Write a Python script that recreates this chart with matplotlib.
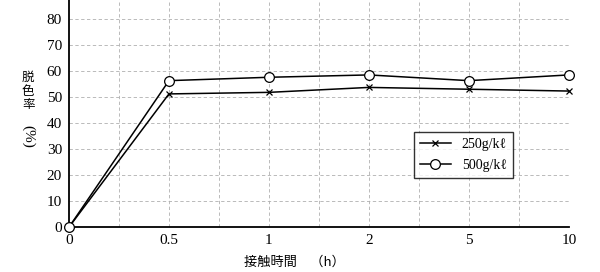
import matplotlib
matplotlib.use("Agg")
import matplotlib.pyplot as plt

# contact time categories (equally spaced on the chart)
times = ['0', '0.5', '1', '2', '5', '10']
rate_250 = [0, 51.2, 51.8, 53.7, 53.0, 52.3]
rate_500 = [0, 56.3, 57.6, 58.5, 56.3, 58.5]
yticks = [0, 10, 20, 30, 40, 50, 60, 70, 80]

serif = ['Liberation Serif', 'DejaVu Serif']
jp = ['Noto Sans CJK JP', 'DejaVu Sans']

fig = plt.figure(figsize=(6.0, 2.72), dpi=100)
ax = fig.add_axes([0.115, 0.165, 0.833, 0.835])

x = list(range(len(times)))
ax.plot(x, rate_250, color='black', lw=1.1, marker='x', ms=4, mew=0.9,
        label='250g/kℓ', zorder=3, clip_on=False)
ax.plot(x, rate_500, color='black', lw=1.1, marker='o', ms=7, mfc='white',
        mew=0.9, label='500g/kℓ', zorder=3, clip_on=False)

ax.set_xlim(0, len(times) - 1)
ax.set_ylim(0, 87.3)
ax.set_xticks(x)
ax.set_xticklabels(times, family=serif, fontsize=11)
ax.set_yticks(yticks)
ax.set_yticklabels([str(v) for v in yticks], family=serif, fontsize=11)
ax.tick_params(length=0, pad=5)

# dashed grid at every category and half-way between
for gx in [i * 0.5 for i in range(1, 2 * (len(times) - 1) + 1)]:
    ax.axvline(gx, color='#b0b0b0', lw=0.6, ls=(0, (4, 3)), zorder=1)
for gy in yticks[1:]:
    ax.axhline(gy, color='#b0b0b0', lw=0.6, ls=(0, (4, 3)), zorder=1)

for s in ['top', 'right']:
    ax.spines[s].set_visible(False)
for s in ['left', 'bottom']:
    ax.spines[s].set_linewidth(1.3)

# y label: stacked characters plus rotated (%)
fig.text(0.047, 0.665, '脱\n色\n率', family=jp, fontsize=9,
         ha='center', va='center', linespacing=1.05)
fig.text(0.047, 0.50, '(%)', family=serif, fontsize=11, rotation=270,
         ha='center', va='center')

fig.text(0.49, 0.035, '接触時間　（h）', family=jp, fontsize=9.5,
         ha='center', va='center')

leg = ax.legend(loc='upper left', bbox_to_anchor=(0.69, 0.42), frameon=True,
                fancybox=False, edgecolor='black', handlelength=2.2,
                borderpad=0.45, labelspacing=0.55, borderaxespad=0,
                prop={'family': serif, 'size': 10})
leg.get_frame().set_linewidth(1.0)

fig.savefig('out.png', dpi=100, facecolor='white')
